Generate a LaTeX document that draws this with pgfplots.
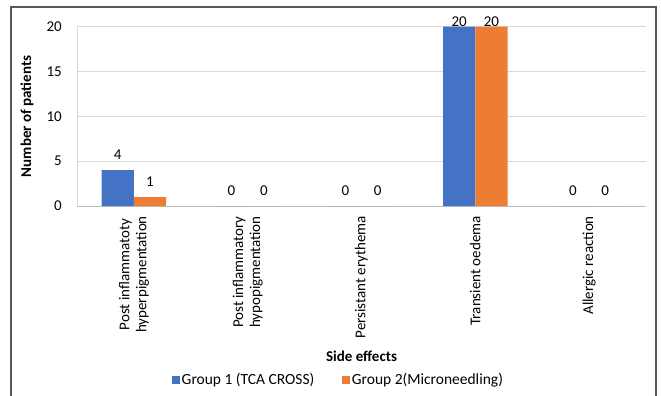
\documentclass[border=0pt]{standalone}
\usepackage{pgfplots}
\pgfplotsset{compat=1.18}
\usepackage{pgfplotstable}
\usepackage{fontspec}
\setmainfont{Carlito}
\definecolor{gblue}{HTML}{4472C4}
\definecolor{gorange}{HTML}{ED7D31}
\definecolor{gridc}{HTML}{D9D9D9}
\definecolor{axc}{HTML}{BFBFBF}
\definecolor{framec}{HTML}{595959}
\newcommand\lab{\fontsize{15}{17}\selectfont}
\newcommand\leg{\fontsize{15.5}{17}\selectfont}
\pgfplotstableread{
x g1 g2 off
0 4  1  15
1 0  0  15
2 0  0  15
3 20 20 4.7
4 0  0  15
}\data
\begin{document}
\begin{tikzpicture}
\useasboundingbox (0pt,0pt) rectangle (661pt,-396pt);
\draw[framec, line width=1.3pt] (11pt,-400pt) -- (11pt,-7pt) -- (656pt,-7pt) -- (656pt,-400pt);
\begin{axis}[
  at={(77pt,-206pt)}, anchor=south west,
  scale only axis, width=569pt, height=179.3pt,
  /pgf/number format/assume math mode=true,
  clip=false,
  xmin=-0.5, xmax=4.5, ymin=0, ymax=20,
  ytick={0,5,10,15,20},
  xtick=data,
  xticklabels={{Post inflammatoty\\hyperpigmentation},{Post inflammatory\\hypopigmentation},{Persistant erythema},{Transient oedema},{Allergic reaction}},
  major tick length=0pt,
  tick style={draw=none},
  axis x line*=bottom, axis y line*=left,
  axis line style={-},
  x axis line style={draw=axc, line width=0.8pt},
  y axis line style={draw=gridc, line width=0.8pt},
  ymajorgrids, grid style={draw=gridc, line width=0.8pt},
  ybar=0pt, bar width=32.3pt,
  yticklabel style={font=\lab, anchor=east, inner sep=0pt, xshift=-15pt},
  xticklabel style={font=\lab, rotate=90, anchor=east, align=center, inner sep=0pt, xshift=-10pt},
  ylabel={\textbf{Number of patients}},
  ylabel style={font=\lab, at={(axis description cs:-0.0879,0.5)}, anchor=center},
  xlabel={\textbf{Side effects}},
  xlabel style={font=\lab, at={(axis description cs:0.5,-0.8366)}, anchor=center},
  legend columns=2,
  legend style={at={(axis description cs:0.167,-0.970)}, anchor=west, draw=none, fill=none, font=\leg, inner sep=0pt,
    /tikz/every even column/.append style={column sep=26pt},
    nodes={inner xsep=2pt}},
  legend image code/.code={\fill[#1] (0pt,-3.75pt) rectangle (7.5pt,3.75pt);},
]
\addplot[fill=gblue, draw=none, nodes near coords,
  visualization depends on={\thisrow{off}\as\myoff},
  every node near coord/.append style={font=\lab, anchor=center, yshift=\myoff pt, inner sep=0pt}]
  table[x=x,y=g1]{\data};
\addplot[fill=gorange, draw=none, nodes near coords,
  visualization depends on={\thisrow{off}\as\myoff},
  every node near coord/.append style={font=\lab, anchor=center, yshift=\myoff pt, inner sep=0pt}]
  table[x=x,y=g2]{\data};
\legend{Group 1 (TCA CROSS),Group 2(Microneedling)}
\end{axis}
\end{tikzpicture}
\end{document}
